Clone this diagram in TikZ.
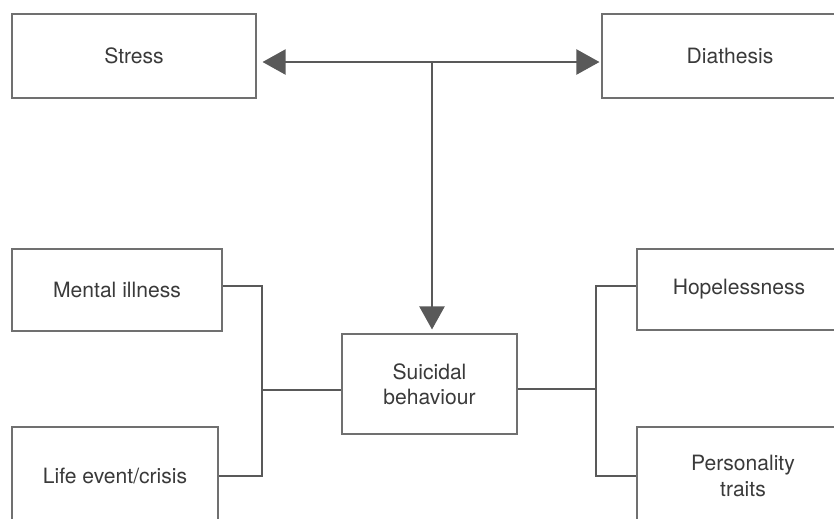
\documentclass[tikz,border=0pt]{standalone}
\usepackage{fontspec}
\setmainfont{TeX Gyre Heros}
\usetikzlibrary{arrows.meta}
\definecolor{boxgray}{HTML}{707070}
\definecolor{linegray}{HTML}{595959}
\definecolor{textgray}{HTML}{3A3A3A}
\newcommand{\px}{0.03cm}
\tikzset{
  box/.style 2 args={draw=boxgray, line width=0.9pt, minimum width=#1*\px,
    minimum height=#2*\px, inner sep=0pt, align=center, text=textgray,
    font=\fontsize{18}{21.5}\selectfont},
  conn/.style={draw=linegray, line width=1.8pt},
  tip/.style={-{Triangle[length=0.69cm,width=0.75cm]}}
}
\begin{document}
\begin{tikzpicture}[x=0.03cm, y=-0.03cm]
            \useasboundingbox (0,0) rectangle (834,518);
            \clip (0,0) rectangle (834,518);
            % boxes
            \node [box={244}{84}] (stress) at (134,56) {Stress};
            \node [box={256}{84}] (diathesis) at (730,56) {Diathesis};
            \node [box={210}{82}] (mental) at (117,290) {Mental illness};
            \node [box={206}{98}] (life) at (115,476) {Life event/crisis};
            \node [box={175}{100}] (suicidal) at (429.5,384) {Suicidal\\behaviour};
            \node [box={204}{81}] (hope) at (739,289.5) {Hopelessness};
            \node [box={212}{98}] (person) at (743,476) {Personality\\traits};
            % junctions
            \coordinate (hub) at (432,62);
            \coordinate (ljoin) at (262,390);
            \coordinate (rjoin) at (596,389);
            % arrows
            \draw [conn, {Triangle[length=0.69cm,width=0.75cm]}-{Triangle[length=0.69cm,width=0.75cm]},
                   shorten <=6*\px, shorten >=2*\px] (hub -| stress.east) -- (hub -| diathesis.west);
            \draw [conn, tip, shorten >=4*\px] (hub) -- (hub |- suicidal.north);
            % left branch
            \draw [conn] ([yshift=4*\px]mental.east) -| (ljoin) |- (life.east);
            \draw [conn] (ljoin) -- (ljoin -| suicidal.west);
            % right branch
            \draw [conn] ([yshift=3.5*\px]hope.west) -| (rjoin) |- (person.west);
            \draw [conn] (suicidal.east |- rjoin) -- (rjoin);
        \end{tikzpicture}
\end{document}
